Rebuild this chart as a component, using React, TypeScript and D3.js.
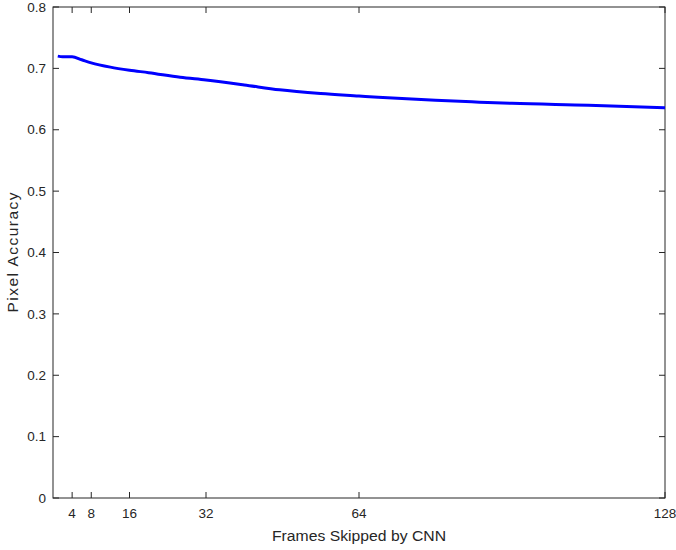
import React from "react";
import * as d3 from "d3";

const framesSkipped = [1, 2, 3, 4, 6, 8, 12, 16, 20, 26.6, 32, 40, 47.4, 56, 64, 68, 80, 89.2, 96, 112, 128];
const pixelAccuracy = [0.720, 0.719, 0.719, 0.719, 0.714, 0.709, 0.702, 0.697, 0.693, 0.6855, 0.681, 0.673, 0.665, 0.659, 0.655, 0.653, 0.648, 0.645, 0.643, 0.640, 0.636];
const xTicks = [4, 8, 16, 32, 64, 128];
const yTicks = [0, 0.1, 0.2, 0.3, 0.4, 0.5, 0.6, 0.7, 0.8];

const W = 676, H = 550;
const L = 53, R = 665, T = 7, B = 498;
const axisColor = "#262626";
const font = "'Liberation Sans', Arial, Helvetica, sans-serif";

export default function App() {
  const x = d3.scaleLinear().domain([0, 128]).range([L, R]);
  const y = d3.scaleLinear().domain([0, 0.8]).range([B, T]);
  const data = framesSkipped.map((f, i) => [f, pixelAccuracy[i]] as [number, number]);
  const line = d3.line<[number, number]>().x(d => x(d[0])).y(d => y(d[1])).curve(d3.curveMonotoneX);
  const tl = 6;
  return (
    <svg width={W} height={H} style={{ position: "absolute", left: 0, top: 0 }}>
      <rect x={0} y={0} width={W} height={H} fill="#fff" />
      <rect x={L} y={T} width={R - L} height={B - T} fill="none" stroke={axisColor} strokeWidth={1} />
      {yTicks.map(t => (
        <g key={"y" + t}>
          <line x1={L} x2={L + tl} y1={y(t)} y2={y(t)} stroke={axisColor} />
          <line x1={R} x2={R - tl} y1={y(t)} y2={y(t)} stroke={axisColor} />
          <text x={L - 7} y={y(t)} dy="0.35em" textAnchor="end" fontFamily={font} fontSize={13.5} fill={axisColor}>
            {t === 0 ? "0" : t.toFixed(1)}
          </text>
        </g>
      ))}
      {xTicks.map(t => (
        <g key={"x" + t}>
          <line x1={x(t)} x2={x(t)} y1={B} y2={B - tl} stroke={axisColor} />
          <line x1={x(t)} x2={x(t)} y1={T} y2={T + tl} stroke={axisColor} />
          <text x={x(t)} y={B + 20} textAnchor="middle" fontFamily={font} fontSize={13.5} fill={axisColor}>
            {t}
          </text>
        </g>
      ))}
      <path d={line(data) || ""} fill="none" stroke="#0000ff" strokeWidth={3} />
      <text x={(L + R) / 2} y={541} textAnchor="middle" fontFamily={font} fontSize={15.5} textLength={174} lengthAdjust="spacingAndGlyphs" fill={axisColor}>
        Frames Skipped by CNN
      </text>
      <text transform={`translate(18,${(T + B) / 2}) rotate(-90)`} textAnchor="middle" fontFamily={font} fontSize={15.5} textLength={120} lengthAdjust="spacing" fill={axisColor}>
        Pixel Accuracy
      </text>
    </svg>
  );
}
